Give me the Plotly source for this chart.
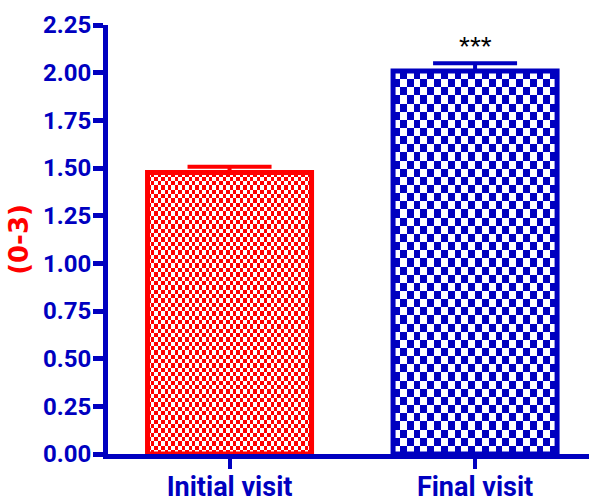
import numpy as np
import plotly.graph_objects as go

# ---- data ----
categories = ["Initial visit", "Final visit"]
means = [1.477, 2.009]
sem = [0.030, 0.040]
significance = ["", "***"]
y_ticks = [0.00, 0.25, 0.50, 0.75, 1.00, 1.25, 1.50, 1.75, 2.00, 2.25]

# ---- style ----
BLUE = "#0000c0"
RED = "#ff0000"
bar_colors = [RED, BLUE]
cell_px = [(3.4, 4.3), (6.9, 8.1)]   # checker cell size (w, h) in px per bar
W, H = 589, 501
ML, MR, MT, MB = 108, 0, 25, 47
YMAX = 2.25
XR = [-0.495, 1.464]
BAR_W = 0.668

plot_w = W - ML - MR
plot_h = H - MT - MB
px_per_x = plot_w / (XR[1] - XR[0])
px_per_y = plot_h / YMAX

FONT = "Roboto, Liberation Sans, Arial, sans-serif"

fig = go.Figure()

xpos = list(range(len(categories)))

# checkerboard fills
for i, (v, col) in enumerate(zip(means, bar_colors)):
    cw, ch = cell_px[i]
    ncols = max(1, int(round(BAR_W * px_per_x / cw)))
    nrows = max(1, int(round(v * px_per_y / ch)))
    xe = np.linspace(xpos[i] - BAR_W / 2, xpos[i] + BAR_W / 2, ncols + 1)
    ye = np.linspace(0, v, nrows + 1)
    rr, cc = np.meshgrid(np.arange(nrows), np.arange(ncols), indexing="ij")
    z = ((rr + cc) % 2).astype(float)
    fig.add_trace(go.Heatmap(
        x=xe, y=ye, z=z, zmin=0, zmax=1,
        colorscale=[[0, "white"], [1, col]],
        showscale=False, zsmooth=False, hoverinfo="skip",
    ))

# bar outlines with SEM error bars
for i, (v, e, col) in enumerate(zip(means, sem, bar_colors)):
    fig.add_trace(go.Bar(
        x=[xpos[i]], y=[v], width=BAR_W,
        marker=dict(color="rgba(0,0,0,0)", line=dict(color=col, width=5)),
        error_y=dict(type="data", symmetric=False, array=[e], arrayminus=[0],
                     color=col, thickness=4, width=42),
        showlegend=False,
    ))

# significance stars
for i, (v, e, s) in enumerate(zip(means, sem, significance)):
    if s:
        fig.add_annotation(x=xpos[i], y=v + e, text=s, showarrow=False,
                           yanchor="bottom", yshift=-1,
                           font=dict(family="Liberation Sans, Arial, sans-serif",
                                     size=28, color="black"))

fig.update_layout(
    width=W, height=H,
    margin=dict(l=ML, r=MR, t=MT, b=MB, pad=0),
    paper_bgcolor="white", plot_bgcolor="white",
    showlegend=False,
    xaxis=dict(
        range=XR, tickmode="array", tickvals=xpos, ticktext=categories,
        showline=True, linecolor=BLUE, linewidth=5,
        ticks="outside", ticklen=10, tickwidth=4, tickcolor=BLUE,
        showgrid=False, zeroline=False,
        tickfont=dict(family=FONT, size=27, color=BLUE, weight="bold"),
        automargin=False, ticklabelstandoff=-5,
    ),
    yaxis=dict(
        range=[0, YMAX], tickmode="array", tickvals=y_ticks,
        ticktext=[f"{t:.2f}" for t in y_ticks],
        showline=True, linecolor=BLUE, linewidth=5,
        ticks="outside", ticklen=10, tickwidth=5, tickcolor=BLUE,
        showgrid=False, zeroline=False,
        tickfont=dict(family=FONT, size=24, color=BLUE, weight="bold"),
        automargin=False, ticklabelstandoff=-3,
        title=dict(text="(0-3)", standoff=8,
                   font=dict(family="DejaVu Sans, sans-serif", size=26,
                             color=RED, weight="bold")),
    ),
)

fig.write_html("out.html", config={"displayModeBar": False},
               post_script="document.body.style.margin='0px';")
